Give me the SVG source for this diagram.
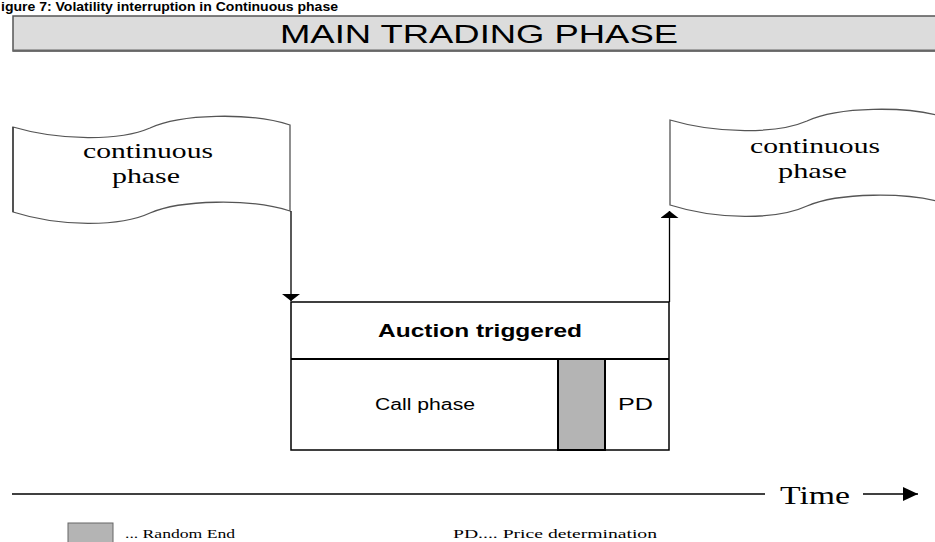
<svg xmlns="http://www.w3.org/2000/svg" width="935" height="542" viewBox="0 0 935 542">
  <style>
    .sans { font-family: "Liberation Sans", Arial, sans-serif; fill: #000; }
    .serif { font-family: "Liberation Serif", "Times New Roman", serif; fill: #000; }
    .flag { fill: #fff; stroke: #555; stroke-width: 1.3; }
    .box { fill: #fff; stroke: #000; stroke-width: 1.5; }
    .conn { fill: none; stroke: #000; stroke-width: 1.3; }
  </style>
  <defs>
    <!-- flat, wide head for the phase connectors -->
    <marker id="flatHead" viewBox="0 0 7 18" refX="7" refY="9" markerWidth="7" markerHeight="18" markerUnits="userSpaceOnUse" orient="auto">
      <path d="M0,0 L7,9 L0,18 Z" fill="#000"/>
    </marker>
    <!-- head for the time axis -->
    <marker id="timeHead" viewBox="0 0 15 14" refX="15" refY="7" markerWidth="15" markerHeight="14" markerUnits="userSpaceOnUse" orient="auto">
      <path d="M0,0 L15,7 L0,14 Z" fill="#000"/>
    </marker>
    <path id="flagShape" d="M13,127 C 60,141 120,141 150,128 C 180,114 250,112 290,125 L290,211 C 250,198 180,200 150,213 C 120,227 60,227 13,212 Z"/>
  </defs>
  <rect width="935" height="542" fill="#fff"/>

  <!-- figure caption -->
  <text class="sans" x="1" y="11" font-size="12" font-weight="bold" textLength="337" lengthAdjust="spacingAndGlyphs">igure 7: Volatility interruption in Continuous phase</text>

  <!-- header bar -->
  <g id="header">
    <rect x="13" y="16" width="930" height="35" fill="#dcdcdc" stroke="#555" stroke-width="1.5"/>
    <line x1="13" y1="50.5" x2="935" y2="50.5" stroke="#666" stroke-width="2"/>
    <text class="sans" x="280" y="43" font-size="25" textLength="398" lengthAdjust="spacingAndGlyphs">MAIN TRADING PHASE</text>
  </g>

  <!-- continuous phase before the interruption -->
  <g id="continuous-left">
    <use href="#flagShape" class="flag"/>
    <line x1="13" y1="127" x2="13" y2="212" stroke="#333" stroke-width="1.3"/>
    <text class="serif" x="83" y="158" font-size="21" textLength="130" lengthAdjust="spacingAndGlyphs">continuous</text>
    <text class="serif" x="112" y="183" font-size="21" textLength="68" lengthAdjust="spacingAndGlyphs">phase</text>
  </g>

  <!-- continuous phase after the auction -->
  <g id="continuous-right">
    <use href="#flagShape" class="flag" transform="translate(657,-7)"/>
    <text class="serif" x="750" y="153" font-size="21" textLength="130" lengthAdjust="spacingAndGlyphs">continuous</text>
    <text class="serif" x="778" y="178" font-size="21" textLength="69" lengthAdjust="spacingAndGlyphs">phase</text>
  </g>

  <!-- volatility auction -->
  <g id="auction">
    <rect class="box" x="291" y="302" width="378" height="148"/>
    <line x1="291" y1="359" x2="669" y2="359" stroke="#000" stroke-width="2"/>
    <text class="sans" x="378" y="337" font-size="19" font-weight="bold" textLength="204" lengthAdjust="spacingAndGlyphs">Auction triggered</text>
  </g>
  <g id="call-phase">
    <text class="sans" x="375" y="410" font-size="16" textLength="100" lengthAdjust="spacingAndGlyphs">Call phase</text>
  </g>
  <g id="random-end">
    <rect x="558" y="359" width="47" height="91" fill="#b4b4b4" stroke="#000" stroke-width="2"/>
  </g>
  <g id="price-determination">
    <text class="sans" x="618" y="410" font-size="16" textLength="35" lengthAdjust="spacingAndGlyphs">PD</text>
  </g>

  <!-- connectors -->
  <g id="connectors">
    <line class="conn" x1="291" y1="211" x2="291" y2="301" marker-end="url(#flatHead)"/>
    <line class="conn" x1="669.5" y1="302" x2="669.5" y2="211" marker-end="url(#flatHead)"/>
  </g>

  <!-- time axis -->
  <g id="time-axis">
    <line x1="12" y1="494" x2="765" y2="494" stroke="#000" stroke-width="1.5"/>
    <text class="serif" x="780" y="504" font-size="26" textLength="70" lengthAdjust="spacingAndGlyphs">Time</text>
    <line x1="863" y1="494" x2="918" y2="494" stroke="#000" stroke-width="1.5" marker-end="url(#timeHead)"/>
  </g>

  <!-- legend -->
  <g id="legend">
    <rect x="68" y="523" width="45" height="24" fill="#b4b4b4" stroke="#666" stroke-width="1"/>
    <text class="serif" x="125" y="538" font-size="12" textLength="110" lengthAdjust="spacingAndGlyphs">... Random End</text>
    <text class="serif" x="453" y="538" font-size="12" textLength="204" lengthAdjust="spacingAndGlyphs">PD.... Price determination</text>
  </g>
</svg>
